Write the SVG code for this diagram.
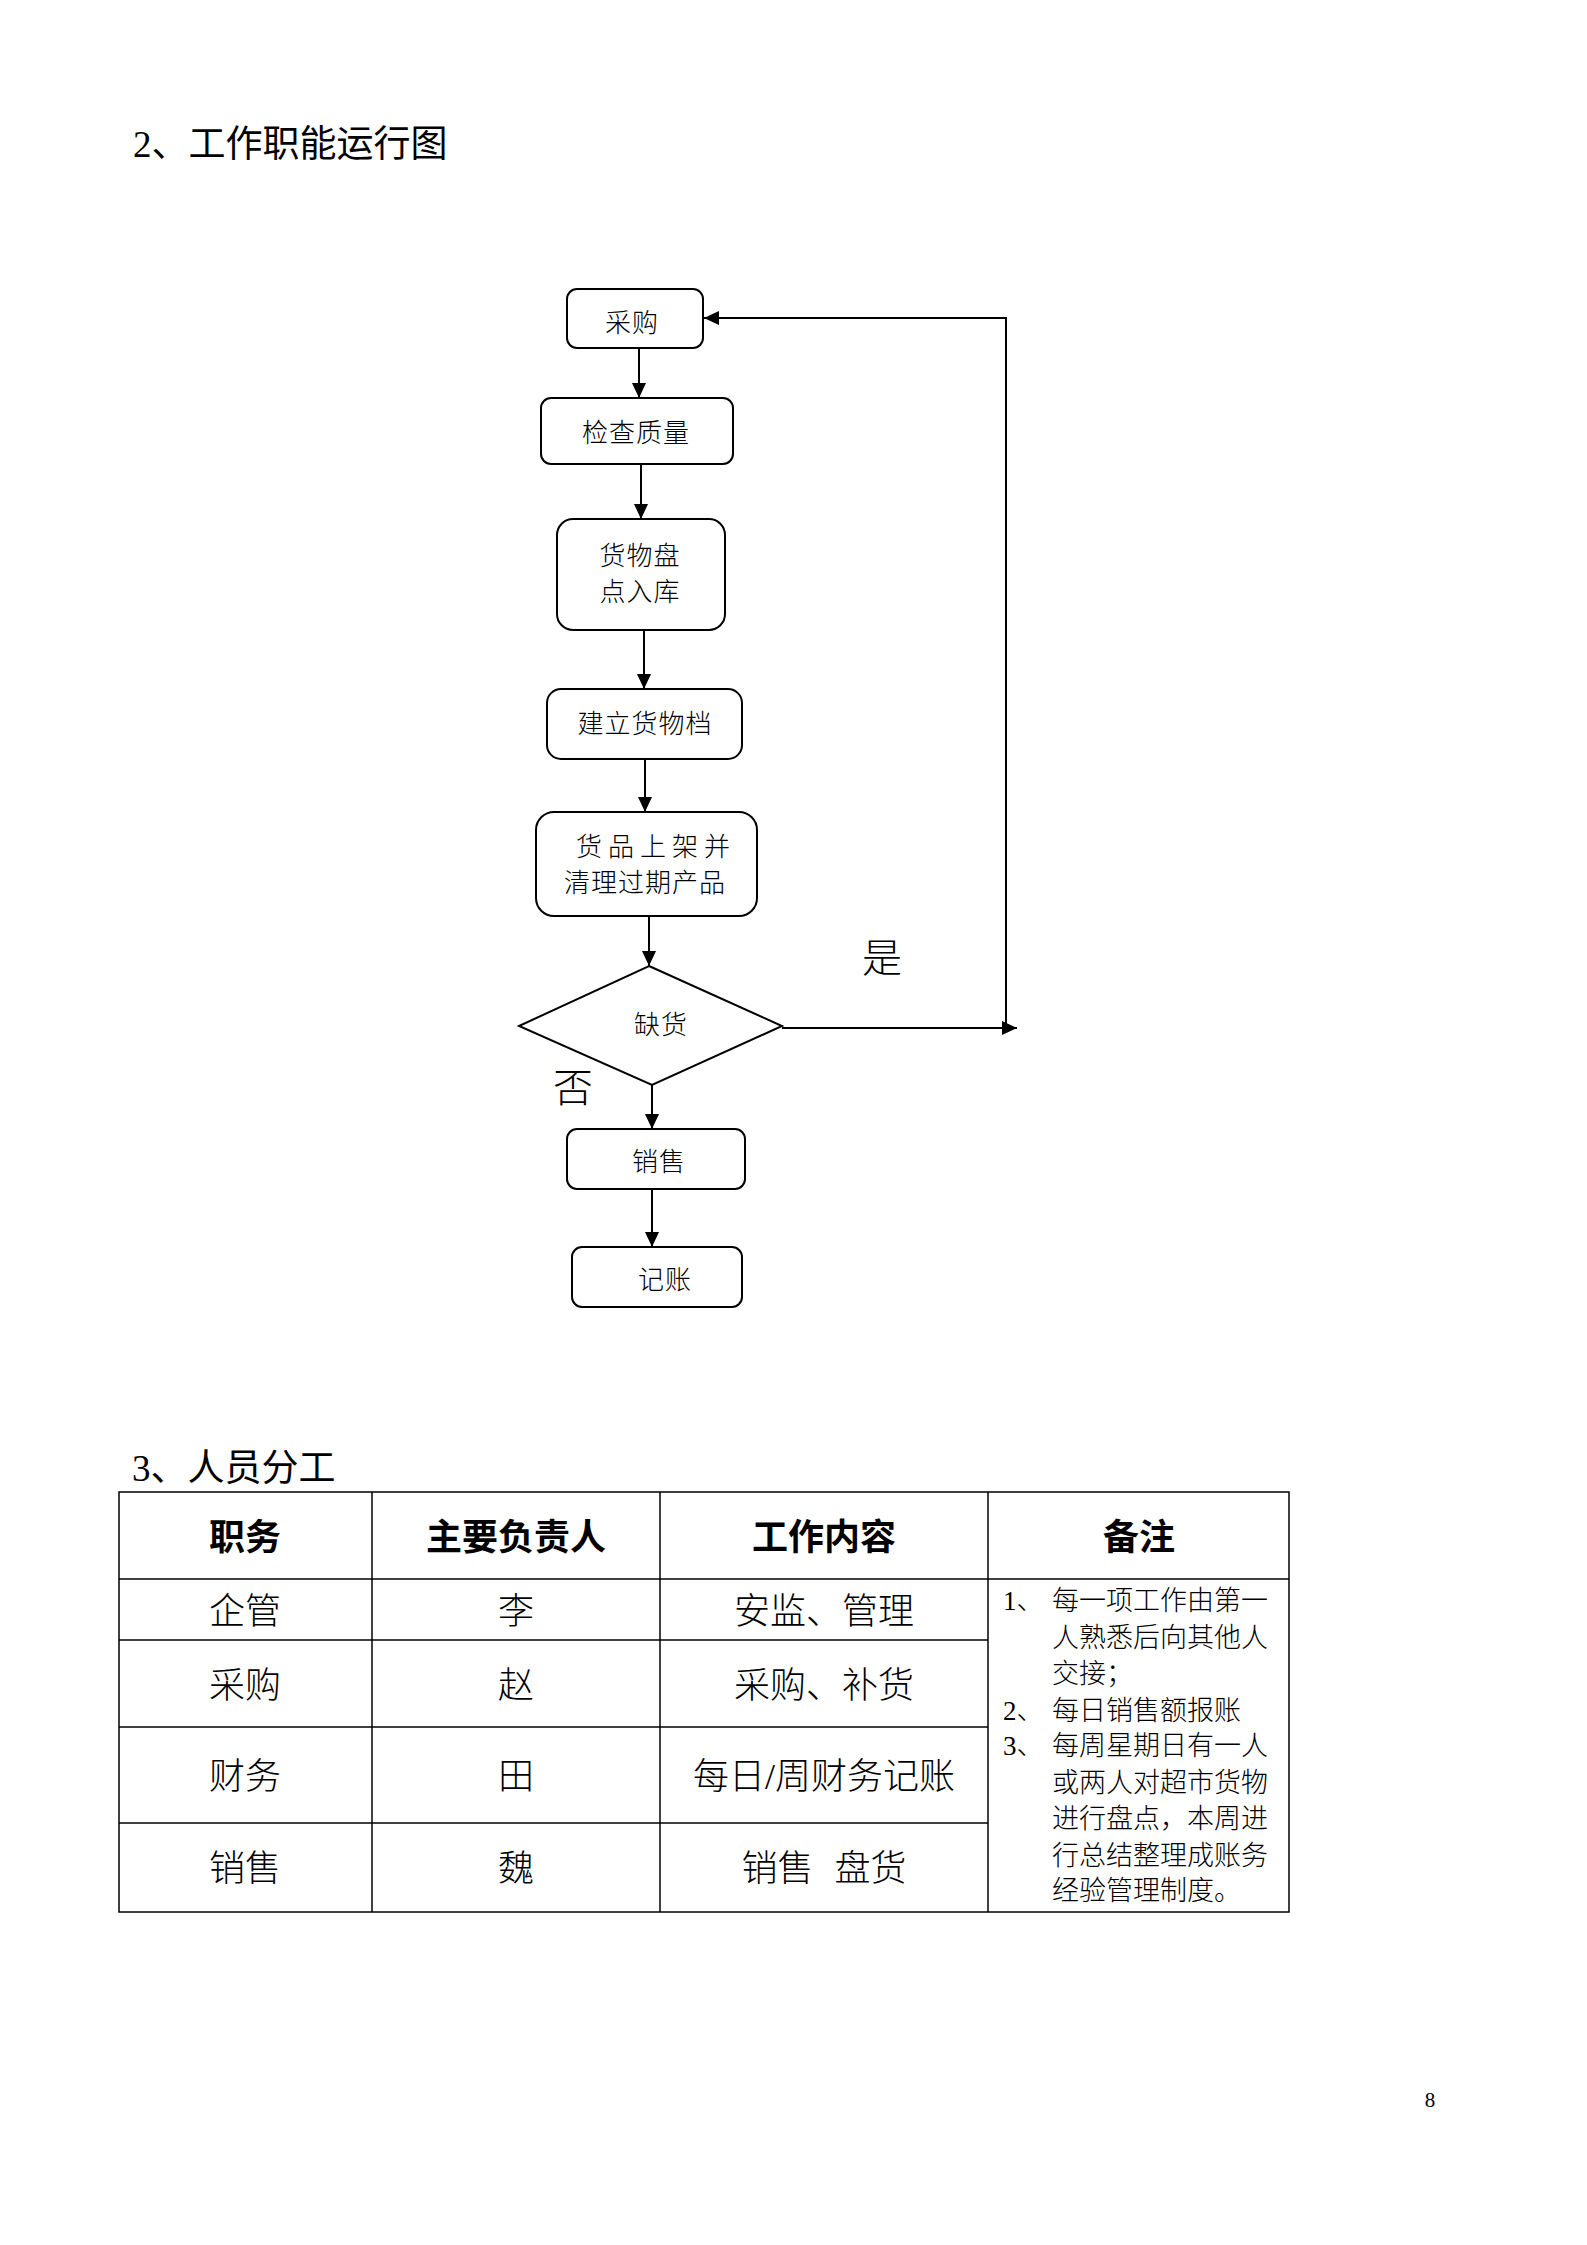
<svg xmlns="http://www.w3.org/2000/svg" width="1587" height="2245" viewBox="0 0 1587 2245">
<style>
.t{font-family:"Liberation Serif","Noto Sans CJK SC",serif;fill:#000;font-weight:300}
.h{font-size:37px;font-weight:400}
.n{font-size:26px;text-anchor:middle;letter-spacing:1px}
.box{fill:#fff;stroke:#000;stroke-width:2}
.c{stroke:#000;stroke-width:2;fill:none}
.grid{stroke:#000;stroke-width:1.5;fill:none}
.th{font-size:36px;font-weight:bold;text-anchor:middle}
.td{font-size:36px;text-anchor:middle}
.r{font-size:27px}
</style>
<defs>
<marker id="ah" viewBox="0 0 15 14" refX="15" refY="7" markerWidth="15" markerHeight="14" markerUnits="userSpaceOnUse" orient="auto">
<path d="M0,0 L15,7 L0,14 z" fill="#000"/>
</marker>
</defs>
<rect width="1587" height="2245" fill="#fff"/>
<text class="t h" x="133" y="157">2、工作职能运行图</text>

<g id="connectors">
<line class="c" x1="639" y1="348" x2="639" y2="398" marker-end="url(#ah)"/>
<line class="c" x1="641" y1="464" x2="641" y2="519" marker-end="url(#ah)"/>
<line class="c" x1="644" y1="630" x2="644" y2="689" marker-end="url(#ah)"/>
<line class="c" x1="645" y1="759" x2="645" y2="812" marker-end="url(#ah)"/>
<line class="c" x1="649" y1="916" x2="649" y2="966" marker-end="url(#ah)"/>
<line class="c" x1="652" y1="1085" x2="652" y2="1129" marker-end="url(#ah)"/>
<line class="c" x1="652" y1="1189" x2="652" y2="1247" marker-end="url(#ah)"/>
<line class="c" x1="782" y1="1028" x2="1017" y2="1028" marker-end="url(#ah)"/>
<polyline class="c" points="1006,1028 1006,318 704,318" marker-end="url(#ah)"/>
<text class="t" x="882" y="972" font-size="40" text-anchor="middle">是</text>
<text class="t" x="573" y="1102" font-size="40" text-anchor="middle">否</text>
</g>

<g id="n1"><rect class="box" x="567" y="289" width="136" height="59" rx="10"/><text class="t n" x="632" y="332">采购</text></g>
<g id="n2"><rect class="box" x="541" y="398" width="192" height="66" rx="10"/><text class="t n" x="636" y="442">检查质量</text></g>
<g id="n3"><rect class="box" x="557" y="519" width="168" height="111" rx="16"/><text class="t n" x="640" y="565">货物盘</text><text class="t n" x="640" y="601">点入库</text></g>
<g id="n4"><rect class="box" x="547" y="689" width="195" height="70" rx="14"/><text class="t n" x="645" y="733" letter-spacing="3">建立货物档</text></g>
<g id="n5"><rect class="box" x="536" y="812" width="221" height="104" rx="18"/><text class="t" x="576" y="856" font-size="26" letter-spacing="6">货品上架并</text><text class="t n" x="645" y="892">清理过期产品</text></g>
<g id="n6"><polygon class="box" points="649,966 782,1026 652,1085 519,1026"/><text class="t n" x="661" y="1034">缺货</text></g>
<g id="n7"><rect class="box" x="567" y="1129" width="178" height="60" rx="10"/><text class="t n" x="659" y="1171">销售</text></g>
<g id="n8"><rect class="box" x="572" y="1247" width="170" height="60" rx="10"/><text class="t n" x="665" y="1289">记账</text></g>

<text class="t h" x="132" y="1481">3、人员分工</text>
<g id="table">
<rect class="grid" x="119" y="1492" width="1170" height="420"/>
<line class="grid" x1="372" y1="1492" x2="372" y2="1912"/>
<line class="grid" x1="660" y1="1492" x2="660" y2="1912"/>
<line class="grid" x1="988" y1="1492" x2="988" y2="1912"/>
<line class="grid" x1="119" y1="1579" x2="1289" y2="1579"/>
<line class="grid" x1="119" y1="1640" x2="988" y2="1640"/>
<line class="grid" x1="119" y1="1727" x2="988" y2="1727"/>
<line class="grid" x1="119" y1="1823" x2="988" y2="1823"/>
<text class="t th" x="245" y="1550">职务</text>
<text class="t th" x="516" y="1550">主要负责人</text>
<text class="t th" x="824" y="1550">工作内容</text>
<text class="t th" x="1139" y="1550">备注</text>
<text class="t td" x="245" y="1624">企管</text>
<text class="t td" x="516" y="1624">李</text>
<text class="t td" x="824" y="1624">安监、管理</text>
<text class="t td" x="245" y="1698">采购</text>
<text class="t td" x="516" y="1698">赵</text>
<text class="t td" x="824" y="1698">采购、补货</text>
<text class="t td" x="245" y="1789">财务</text>
<text class="t td" x="516" y="1789">田</text>
<text class="t td" x="824" y="1789">每日/周财务记账</text>
<text class="t td" x="245" y="1881">销售</text>
<text class="t td" x="516" y="1881">魏</text>
<text class="t td" x="824" y="1881" word-spacing="12">销售 盘货</text>
<text class="t r" x="1003" y="1610">1、</text>
<text class="t r" x="1052" y="1610">每一项工作由第一</text>
<text class="t r" x="1052" y="1647">人熟悉后向其他人</text>
<text class="t r" x="1052" y="1683">交接；</text>
<text class="t r" x="1003" y="1720">2、</text>
<text class="t r" x="1052" y="1720">每日销售额报账</text>
<text class="t r" x="1003" y="1755">3、</text>
<text class="t r" x="1052" y="1755">每周星期日有一人</text>
<text class="t r" x="1052" y="1792">或两人对超市货物</text>
<text class="t r" x="1052" y="1828">进行盘点，本周进</text>
<text class="t r" x="1052" y="1865">行总结整理成账务</text>
<text class="t r" x="1052" y="1900">经验管理制度。</text>
</g>
<text class="t" x="1430" y="2107" font-size="21" text-anchor="middle">8</text>
</svg>
